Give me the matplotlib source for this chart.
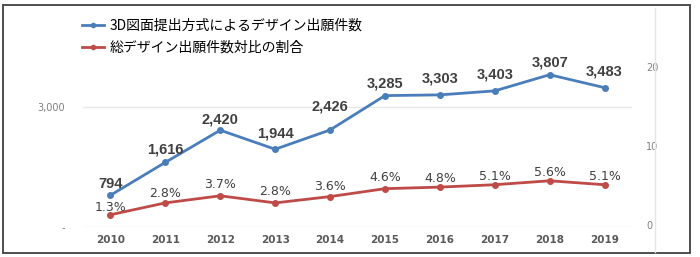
import matplotlib
matplotlib.use("Agg")
import matplotlib.pyplot as plt
from matplotlib.lines import Line2D
from matplotlib.patches import Rectangle

years = ["2010", "2011", "2012", "2013", "2014", "2015", "2016", "2017", "2018", "2019"]
counts_3d = [794, 1616, 2420, 1944, 2426, 3285, 3303, 3403, 3807, 3483]
ratio_pct = [1.3, 2.8, 3.7, 2.8, 3.6, 4.6, 4.8, 5.1, 5.6, 5.1]
series_names = ["3D図面提出方式によるデザイン出願件数", "総デザイン出願件数対比の割合"]

blue = "#4A7EBB"
red = "#BE4B48"
label_col = "#404040"
tick_col = "#7F7F7F"

blue_offsets = [8, 9, 8, 11, 17, 9, 12, 12, 9, 12]
red_offsets = [5, 7, 8, 8, 7, 8, 6.5, 6, 6, 6]

W, H = 700, 257
fig = plt.figure(figsize=(7, 2.57), dpi=100)

# outer frame and separators
fig.add_artist(Rectangle((3 / W, 1 - 253 / H), 687 / W, 248 / H, transform=fig.transFigure,
                         fill=False, edgecolor="#404040", linewidth=1.3))
fig.add_artist(Line2D([655 / W, 655 / W], [1 - 252 / H, 1 - 8 / H], transform=fig.transFigure,
                      color="#E6E6E6", linewidth=1.0))

ax = fig.add_axes([83 / W, 1 - 227 / H, (632 - 83) / W, (227 - 67) / H])
ax2 = ax.twinx()

x = list(range(len(years)))
ax.plot(x, counts_3d, color=blue, lw=2, marker="o", ms=4, zorder=3)
ax2.plot(x, ratio_pct, color=red, lw=2, marker="o", ms=4, zorder=3)

ax.set_xlim(-0.5, 9.5)
ax.set_ylim(0, 4000)
ax2.set_ylim(-0.25, 20)

ax.set_yticks([0, 3000])
ax.set_yticklabels(["-", "3,000"])
ax2.set_yticks([0, 10, 20])
ax2.set_yticklabels(["0", "10", "20"])
ax.set_xticks(x)
ax.set_xticklabels(years)

for a in (ax, ax2):
    for s in a.spines.values():
        s.set_visible(False)
    a.tick_params(length=0)
ax.tick_params(axis="y", labelsize=7, labelcolor=tick_col, pad=13)
ax2.tick_params(axis="y", labelsize=7, labelcolor=tick_col, pad=10)
ax.tick_params(axis="x", labelsize=7.5, labelcolor="#595959", pad=6)
for t in ax.get_xticklabels():
    t.set_fontweight("bold")

ax.axhline(3000, color="#E8E8E8", lw=1, zorder=0)
ax.axhline(0, color="#E8E8E8", lw=1, zorder=0)

for xi, v, off in zip(x, counts_3d, blue_offsets):
    ax.annotate(f"{v:,}", (xi, v), xytext=(0, off), textcoords="offset points",
                ha="center", va="center", fontsize=10.5, fontweight="bold",
                color=label_col, family="Liberation Sans")
for xi, v, off in zip(x, ratio_pct, red_offsets):
    ax2.annotate(f"{v:.1f}%", (xi, v), xytext=(0, off), textcoords="offset points",
                 ha="center", va="center", fontsize=9, color=label_col, family="DejaVu Sans")

handles = [Line2D([], [], color=blue, lw=2, marker="o", ms=3),
           Line2D([], [], color=red, lw=2, marker="o", ms=3)]
fig.legend(handles, series_names, loc="upper left", bbox_to_anchor=(76 / W, 1 - 13 / H),
           frameon=False, prop={"family": ["Noto Sans CJK JP", "DejaVu Sans"], "size": 10},
           handlelength=1.6, handletextpad=0.4, labelspacing=0.6, borderaxespad=0)

fig.savefig("out.png", dpi=100)
